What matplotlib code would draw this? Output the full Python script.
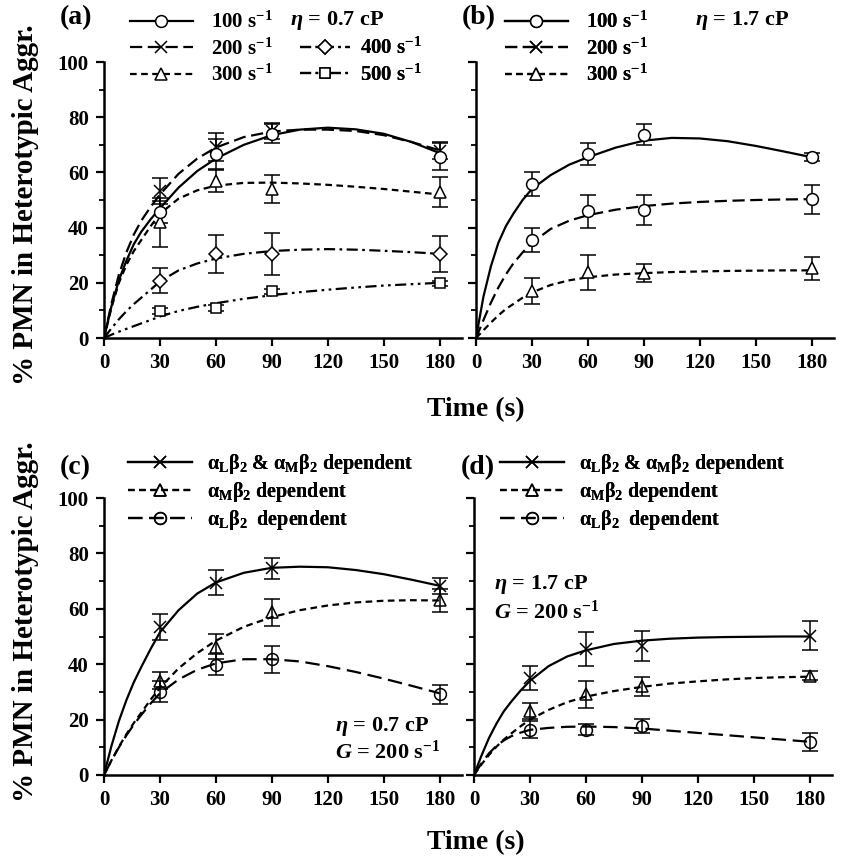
import numpy as np
import matplotlib
matplotlib.use("Agg")
import matplotlib.pyplot as plt
from matplotlib.lines import Line2D
from matplotlib.ticker import MultipleLocator

plt.rcParams['font.family'] = ['Liberation Serif', 'DejaVu Serif']
plt.rcParams['font.weight'] = 'bold'
plt.rcParams['mathtext.fontset'] = 'custom'
plt.rcParams['mathtext.rm'] = 'Liberation Serif:bold'
plt.rcParams['mathtext.it'] = 'Liberation Serif:italic:bold'
plt.rcParams['mathtext.bf'] = 'Liberation Serif:bold'

# measured time points and the time grid for the fitted curves
t_data = [30, 60, 90, 180]
t_fit = [0, 4, 8, 12, 16, 20, 25, 30, 40, 50, 60, 75, 90, 105, 120, 135, 150, 165, 180]

# (a) eta = 0.7 cP
a_100 = [45.8, 66.7, 74.0, 65.7]
a_100_err = [4.0, 5.5, 3.5, 5.0]
a_200 = [53.2, 69.1, 75.0, 67.9]
a_200_err = [4.8, 5.0, 3.0, 3.0]
a_300 = [41.9, 57.0, 54.0, 53.0]
a_300_err = [9.0, 4.0, 5.0, 5.5]
a_400 = [20.8, 30.5, 30.5, 30.5]
a_400_err = [4.5, 7.0, 7.5, 6.5]
a_500 = [9.7, 10.9, 16.9, 19.8]
a_500_err = [1.0, 1.0, 1.0, 1.0]

a_100_fit = [0, 11.5, 21, 28, 34, 38.5, 43, 47, 54.5, 60.5, 65, 70, 73.5, 75.5, 76.2, 75.6, 74, 71, 67]
a_200_fit = [0, 12.5, 23, 31, 37.5, 42.5, 47.5, 52, 59.5, 65, 69, 72.8, 74.8, 75.5, 75.5, 75, 73.5, 71, 68]
a_300_fit = [0, 11, 20, 26.5, 31.5, 35.5, 40.5, 45, 50.5, 53.5, 55.2, 56.2, 56.3, 56, 55.5, 54.8, 54, 53, 52]
a_400_fit = [0, 3.5, 6.8, 9.7, 12.3, 14.6, 17.5, 20.5, 24.5, 27, 28.8, 30.5, 31.5, 32, 32.2, 32, 31.6, 31.1, 30.5]
a_500_fit = [0, 1.2, 2.3, 3.3, 4.3, 5.3, 6.5, 7.8, 9.8, 11.3, 12.6, 14.2, 15.5, 16.6, 17.5, 18.3, 19, 19.5, 20]

# (b) eta = 1.7 cP
b_100 = [55.8, 66.5, 73.7, 65.5]
b_100_err = [4.3, 4.0, 3.8, 1.5]
b_200 = [35.5, 45.9, 46.4, 50.3]
b_200_err = [4.2, 6.0, 5.5, 5.3]
b_300 = [17.1, 23.8, 23.5, 25.2]
b_300_err = [4.6, 6.4, 3.2, 4.2]

b_100_fit = [0, 15, 26, 34.5, 40.5, 45, 50, 54, 59, 62.8, 65.5, 69, 71.5, 72.5, 72.3, 71.3, 69.6, 67.6, 65.5]
b_200_fit = [0, 6.5, 12.8, 18.3, 23, 27, 31, 34.5, 39.5, 42.5, 44.5, 46.5, 47.8, 48.7, 49.3, 49.7, 50, 50.2, 50.3]
b_300_fit = [0, 2.8, 5.6, 8.2, 10.5, 12.3, 14.6, 16.5, 19.2, 20.9, 22, 23, 23.5, 23.9, 24.1, 24.3, 24.4, 24.5, 24.5]

# (c) eta = 0.7 cP, G = 200 1/s
c_both = [53.6, 69.4, 74.6, 68.2]
c_both_err = [4.7, 4.5, 3.7, 3.0]
c_mac1 = [34.1, 46.3, 58.7, 63.0]
c_mac1_err = [3.0, 4.5, 5.0, 4.3]
c_lfa1 = [30.1, 39.8, 41.7, 29.2]
c_lfa1_err = [3.8, 3.8, 4.7, 3.4]

c_both_fit = [0, 10.5, 19.5, 27, 33.5, 39, 45.5, 51.5, 59.5, 65.5, 69.5, 73, 74.8, 75.2, 75, 74, 72.5, 70.5, 68.3]
c_mac1_fit = [0, 5.3, 10.2, 14.7, 18.8, 22.5, 27.2, 31.5, 38.5, 44, 48.5, 53.5, 57, 59.5, 61.2, 62.3, 62.9, 63.1, 63]
c_lfa1_fit = [0, 5.2, 10, 14.3, 18.2, 21.7, 25.8, 29.5, 34.5, 38, 40.3, 41.8, 41.8, 41, 39.3, 37.2, 34.8, 32.2, 29.5]

# (d) eta = 1.7 cP, G = 200 1/s
d_both = [35.0, 45.4, 46.5, 50.3]
d_both_err = [4.3, 6.1, 5.5, 5.3]
d_mac1 = [23.1, 29.2, 32.0, 35.9]
d_mac1_err = [2.8, 4.9, 3.5, 1.5]
d_lfa1 = [16.4, 16.4, 17.6, 11.9]
d_lfa1_err = [3.2, 2.0, 2.6, 3.4]

d_both_fit = [0, 7, 13.3, 18.5, 23, 26.5, 30.5, 34, 39.3, 42.8, 45, 47.3, 48.5, 49.2, 49.6, 49.8, 49.9, 50, 50]
d_mac1_fit = [0, 3.8, 7.2, 10.2, 12.8, 15, 17.6, 20, 23.5, 26.3, 28.3, 30.3, 31.8, 33, 33.8, 34.5, 35, 35.3, 35.5]
d_lfa1_fit = [0, 4.2, 7.8, 10.5, 12.5, 14, 15.3, 16.3, 17, 17.4, 17.5, 17.3, 16.8, 16, 15.2, 14.4, 13.6, 12.8, 12]

SOLID = '-'
LONG = (0, (5.5, 2.5))
LONG2 = (0, (6.5, 3.0))
SHORT = (0, (3.0, 2.0))
DASHDOT = (0, (5, 2, 1.2, 2))
DASHDOTDOT = (0, (5, 2, 1.2, 2, 1.2, 2))

LW = 1.6
FIG_W, FIG_H = 842, 858


def fx(px):
    return px / FIG_W


def fy(py):
    return 1 - py / FIG_H


def draw(ax, fit, y, err, ls, marker, ms, mfc='white'):
    ax.plot(t_fit, fit, color='k', lw=LW, ls=ls, zorder=2)
    ax.errorbar(t_data, y, yerr=err, fmt=marker, ms=ms, mfc=mfc, mec='k', mew=1.1,
                ecolor='k', elinewidth=1.1, capsize=5.5, capthick=1.1, zorder=3,
                clip_on=False)


def handle(ls, marker, ms, mfc='white'):
    return Line2D([], [], color='k', lw=LW, ls=ls, marker=marker, ms=ms,
                  mfc=mfc, mec='k', mew=1.1)


def style(ax, ylabels=True):
    ax.set_xlim(0, 192)
    ax.set_ylim(0, 100)
    ax.spines[['top', 'right']].set_visible(False)
    for s in ['left', 'bottom']:
        ax.spines[s].set_linewidth(1.8)
    ax.set_xticks([0, 30, 60, 90, 120, 150, 180])
    ax.set_yticks(range(0, 101, 20))
    ax.yaxis.set_minor_locator(MultipleLocator(10))
    ax.tick_params(which='major', direction='out', length=6, width=1.6,
                   labelsize=15, pad=5)
    ax.tick_params(which='minor', direction='out', length=3.5, width=1.3)
    if not ylabels:
        ax.tick_params(labelleft=False)


def legend(ax, handles, labels, x, y, size, hl, pad=0.9, spacing=0.25):
    leg = ax.legend(handles, labels, loc='upper left', bbox_to_anchor=(fx(x), fy(y)),
                    bbox_transform=fig.transFigure, frameon=False, fontsize=size,
                    handlelength=hl, handletextpad=pad, labelspacing=spacing,
                    borderpad=0, borderaxespad=0, numpoints=1)
    ax.add_artist(leg)
    return leg


fig = plt.figure(figsize=(8.42, 8.58), dpi=100)
w = fx(358)
h_top = 276 / FIG_H
h_bot = 277 / FIG_H
ax_a = fig.add_axes([fx(104), fy(338), w, h_top])
ax_b = fig.add_axes([fx(476), fy(338), w, h_top])
ax_c = fig.add_axes([fx(104), fy(775), w, h_bot])
ax_d = fig.add_axes([fx(474), fy(775), w, h_bot])

# (a)
draw(ax_a, a_500_fit, a_500, a_500_err, DASHDOTDOT, 's', 7)
draw(ax_a, a_400_fit, a_400, a_400_err, DASHDOT, 'D', 7)
draw(ax_a, a_300_fit, a_300, a_300_err, SHORT, '^', 8.5)
draw(ax_a, a_200_fit, a_200, a_200_err, LONG, 'x', 8)
draw(ax_a, a_100_fit, a_100, a_100_err, SOLID, 'o', 8.5)
style(ax_a)
legend(ax_a, [handle(SOLID, 'o', 8.5), handle(LONG, 'x', 8), handle(SHORT, '^', 8.5)],
       ['100 s$^{-1}$', '200 s$^{-1}$', '300 s$^{-1}$'], 130, 12, 15, 3.0)
legend(ax_a, [handle(DASHDOT, 'D', 7), handle(DASHDOTDOT, 's', 7)],
       ['400 s$^{-1}$', '500 s$^{-1}$'], 300, 38, 15, 2.4, pad=0.5)
fig.text(fx(290), fy(21), r'$\eta$ = 0.7 cP', fontsize=16, va='center')

# (b)
draw(ax_b, b_300_fit, b_300, b_300_err, SHORT, '^', 8.5)
draw(ax_b, b_200_fit, b_200, b_200_err, LONG, 'o', 8.5)
draw(ax_b, b_100_fit, b_100, b_100_err, SOLID, 'o', 8.5)
style(ax_b, ylabels=False)
legend(ax_b, [handle(SOLID, 'o', 8.5), handle(LONG, 'x', 8), handle(SHORT, '^', 8.5)],
       ['100 s$^{-1}$', '200 s$^{-1}$', '300 s$^{-1}$'], 505, 12, 15, 3.0)
fig.text(fx(695), fy(21), r'$\eta$ = 1.7 cP', fontsize=16, va='center')

# (c) and (d)
lab_both = r'α$_{\rm L}$β$_{\rm 2}$ & α$_{\rm M}$β$_{\rm 2}$ dependent'
lab_mac1 = r'α$_{\rm M}$β$_{\rm 2}$ dependent'
lab_lfa1 = r'α$_{\rm L}$β$_{\rm 2}$  dependent'
dep_handles = [handle(SOLID, 'x', 8, 'none'), handle(SHORT, '^', 8.5, 'none'),
               handle(LONG2, 'o', 8.5, 'none')]

draw(ax_c, c_lfa1_fit, c_lfa1, c_lfa1_err, LONG2, 'o', 8.5, 'none')
draw(ax_c, c_mac1_fit, c_mac1, c_mac1_err, SHORT, '^', 8.5, 'none')
draw(ax_c, c_both_fit, c_both, c_both_err, SOLID, 'x', 8, 'none')
style(ax_c)
legend(ax_c, dep_handles, [lab_both, lab_mac1, lab_lfa1], 128, 452, 14.5, 3.2,
       pad=0.7, spacing=0.2)
fig.text(fx(335), fy(727), r'$\eta$ = 0.7 cP', fontsize=16, va='center')
fig.text(fx(335), fy(752), r'$G$ = 200 s$^{-1}$', fontsize=16, va='center')

draw(ax_d, d_lfa1_fit, d_lfa1, d_lfa1_err, LONG2, 'o', 8.5, 'none')
draw(ax_d, d_mac1_fit, d_mac1, d_mac1_err, SHORT, '^', 8.5, 'none')
draw(ax_d, d_both_fit, d_both, d_both_err, SOLID, 'x', 8, 'none')
style(ax_d, ylabels=False)
legend(ax_d, dep_handles, [lab_both, lab_mac1, lab_lfa1], 500, 452, 14.5, 3.2,
       pad=0.7, spacing=0.2)
fig.text(fx(494), fy(585), r'$\eta$ = 1.7 cP', fontsize=16, va='center')
fig.text(fx(494), fy(612), r'$G$ = 200 s$^{-1}$', fontsize=16, va='center')

# panel letters and axis titles
for lab, x, y in [('(a)', 60, 18), ('(b)', 462, 18), ('(c)', 60, 468), ('(d)', 461, 468)]:
    fig.text(fx(x), fy(y), lab, fontsize=20, va='center', ha='left')

for yc in [205, 622]:
    fig.text(fx(26), fy(yc), '% PMN in Heterotypic Aggr.', fontsize=21,
             rotation=90, ha='center', va='center')
for yc in [410, 843]:
    fig.text(fx(476), fy(yc), 'Time (s)', fontsize=20, ha='center', va='center')

fig.savefig('out.png', dpi=100)
